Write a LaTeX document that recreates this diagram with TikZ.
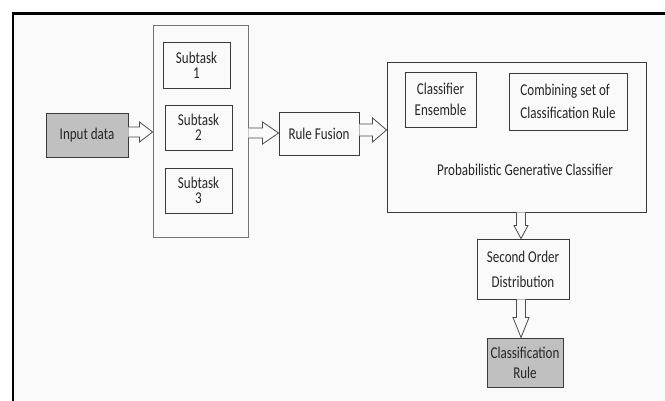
\documentclass[tikz,border=0pt]{standalone}
\usepackage{fontspec}
\setmainfont{Carlito}[FakeStretch=0.79]
\usetikzlibrary{calc}
\definecolor{bgc}{HTML}{FAFAFA}
\definecolor{boxgray}{HTML}{C0C0C0}
\definecolor{edge}{HTML}{3A3A3A}
\definecolor{ink}{HTML}{262626}
\tikzset{
  box/.style={draw=edge, line width=0.9pt, inner sep=0pt, align=center, text=ink},
  grouping/.style={draw=black!55, line width=0.9pt, inner sep=0pt},
  shaded/.style={box, fill=boxgray},
  hollow/.style={draw=black!70, line width=0.8pt, fill=bgc, line join=miter},
  lbl/.style={inner sep=0pt, align=center, text=ink}
}
% hollow block arrow, left to right: start, tip, shaft half-width, head half-width, head length
\newcommand\harr[5]{%
  \draw[hollow] ($(#1)+(0,-#3)$) -- ($(#2)+(-#5,-#3)$) -- ($(#2)+(-#5,-#4)$) -- (#2)
    -- ($(#2)+(-#5,#4)$) -- ($(#2)+(-#5,#3)$) -- ($(#1)+(0,#3)$);}
% hollow block arrow, top to bottom (y grows downward)
\newcommand\varr[5]{%
  \draw[hollow] ($(#1)+(-#3,0)$) -- ($(#2)+(-#3,-#5)$) -- ($(#2)+(-#4,-#5)$) -- (#2)
    -- ($(#2)+(#4,-#5)$) -- ($(#2)+(#3,-#5)$) -- ($(#1)+(#3,0)$);}
\begin{document}
\begin{tikzpicture}[x=1pt, y=-1pt, font=\fontsize{16.5}{15}\selectfont]
\useasboundingbox (0,0) rectangle (665,401);
\fill[white] (0,0) rectangle (665,401);
\fill[bgc] (13,13.5) rectangle (665,401);
\draw[line width=2.6pt] (13,405) -- (13,13.5) -- (670,13.5);

% input and subtasks
\node[shaded, minimum width=82, minimum height=44] (in) at (87,135) {Input data};
\node[grouping, minimum width=95, minimum height=212] (grp) at (200.5,131) {};
\node[box, minimum width=67, minimum height=46] (s1) at (196.5,65) {Subtask\\1};
\node[box, minimum width=67, minimum height=45] (s2) at (198.5,127.5) {Subtask\\2};
\node[box, minimum width=67, minimum height=45] (s3) at (198.5,190.5) {Subtask\\3};

% fusion and classifier
\node[box, minimum width=80, minimum height=43] (rf) at (319,133.5) {Rule Fusion};
\node[box, minimum width=259, minimum height=150] (pgc) at (516.5,137) {};
\node[box, minimum width=71, minimum height=55, font=\fontsize{16.5}{21}\selectfont] (ce) at (440.5,99.5) {Classifier\\Ensemble};
\node[box, minimum width=118, minimum height=57] (cs) at (568,101.5) {};
\node[lbl, align=left, font=\fontsize{16.5}{23}\selectfont] (cst) at (cs.center) {Combining set of\\Classification Rule};
\node[lbl] (pgct) at (525,170) {Probabilistic Generative Classifier};

% output chain
\node[box, minimum width=92, minimum height=60, font=\fontsize{16.5}{25}\selectfont] (sod) at (523,269) {Second Order\\Distribution};
\node[shaded, minimum width=76, minimum height=49, font=\fontsize{16.5}{20}\selectfont] (cr) at (525,362.5) {Classification\\Rule};

% block arrows
\coordinate (a1s) at ($(in.east)+(0,-3)$);
\coordinate (a1e) at (a1s -| grp.west);
\harr{a1s}{a1e}{5}{10}{13}
\coordinate (a2s) at (grp.east |- 0,133);
\coordinate (a2e) at (a2s -| rf.west);
\harr{a2s}{a2e}{5}{11}{16}
\coordinate (a3s) at (rf.east |- 0,130);
\coordinate (a3e) at (a3s -| pgc.west);
\harr{a3s}{a3e}{6}{12}{14}
\coordinate (v1s) at (pgc.south -| 521,0);
\coordinate (v1e) at (v1s |- sod.north);
\varr{v1s}{v1e}{4.5}{7}{13}
\coordinate (v2s) at (sod.south -| 521,0);
\coordinate (v2e) at (v2s |- cr.north);
\varr{v2s}{v2e}{4.5}{8}{20}
\end{tikzpicture}
\end{document}
